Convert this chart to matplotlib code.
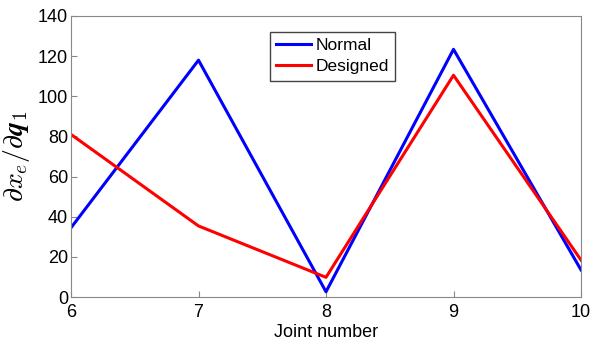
import matplotlib
matplotlib.use("Agg")
from matplotlib import pyplot as plt

plt.rcParams["font.family"] = ["Liberation Sans", "DejaVu Sans"]
plt.rcParams["mathtext.fontset"] = "cm"

joints = [6, 7, 8, 9, 10]
normal = [34.5, 118, 2.6, 123.4, 13.5]
designed = [81, 35.4, 9.8, 110.5, 18.4]

fig = plt.figure(figsize=(5.9, 3.42), dpi=100)
ax = fig.add_axes([71 / 590, 1 - 297 / 342, 510 / 590, 281 / 342])

ax.plot(joints, normal, color="#0000ff", linewidth=2.2, label="Normal")
ax.plot(joints, designed, color="#ff0000", linewidth=2.2, label="Designed")

ax.set_xlim(6, 10)
ax.set_ylim(0, 140)
ax.set_xticks(joints)
ax.set_yticks(range(0, 141, 20))
ax.tick_params(direction="in", labelsize=13, color="#888888", length=4)
ax.tick_params(axis="x", pad=5)
ax.tick_params(axis="y", pad=2)
for s in ax.spines.values():
    s.set_color("#888888")

ax.set_xlabel("Joint number", fontsize=13, labelpad=2)
ax.set_ylabel(r"$\partial x_e/\partial \mathbfit{q}_1$", fontsize=20, labelpad=4)

leg = ax.legend(loc="upper left", bbox_to_anchor=(199 / 510, 1 - 16 / 281),
                fontsize=12.5, fancybox=False, framealpha=1, borderpad=0.35,
                handlelength=2.0, handletextpad=0.25, labelspacing=0.35,
                borderaxespad=0)
leg.get_frame().set_edgecolor("#444444")
leg.get_frame().set_linewidth(1.0)

fig.savefig("out.png", dpi=100)
